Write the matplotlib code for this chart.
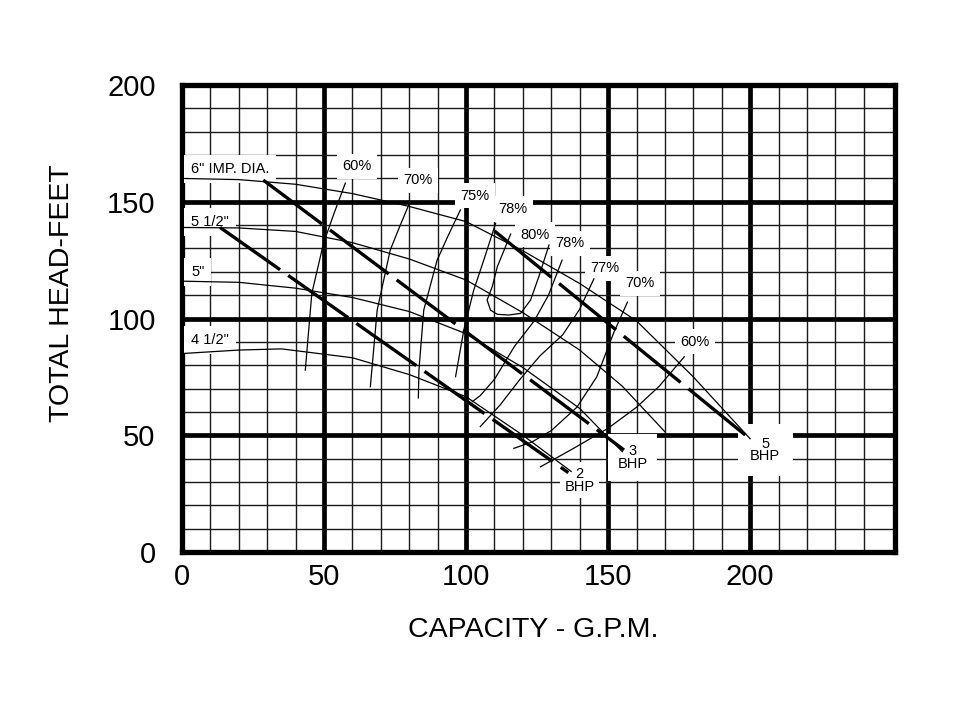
import matplotlib.pyplot as plt
import numpy as np

plt.rcParams["font.family"] = ["Liberation Sans", "DejaVu Sans"]

# Curvas de carga por diametro de impulsor (capacidad gpm, carga ft)
imp6_q = [0, 20, 40, 60, 80, 100, 120, 140, 160, 180, 200]
imp6_h = [160, 159.5, 157.5, 153.5, 148, 141.5, 129, 115, 99, 75, 48.5]
imp55_q = [0, 20, 40, 60, 80, 100, 120, 140, 155, 170]
imp55_h = [139, 138.8, 137.3, 132.5, 125.5, 116.5, 102.5, 86.5, 71, 51.5]
imp5_q = [0, 20, 40, 60, 80, 100, 120, 140, 150, 155]
imp5_h = [116, 115.5, 113, 109, 103, 93.5, 79, 61.5, 49, 43]
imp45_q = [0, 20, 35, 60, 80, 100, 120, 137]
imp45_h = [85, 86.5, 87, 83.2, 76, 66.5, 50, 34.5]

# Lineas de potencia (BHP)
bhp2_q = [13.4, 136]
bhp2_h = [139, 34]
bhp3_q = [28.6, 155.6]
bhp3_h = [159.3, 43.7]
bhp5_q = [110, 199.6]
bhp5_h = [137.5, 48.8]

# Curvas de eficiencia
eff60_l_q = [57.5, 53.5, 49.8, 45.7, 43.4]
eff60_l_h = [158, 145, 132.2, 110.8, 77.9]
eff70_l_q = [79.8, 76.5, 73.3, 68.7, 66.3]
eff70_l_h = [148.6, 139, 129.3, 103.6, 70.8]
eff75_l_q = [98, 93.5, 89.8, 85.1, 83.4, 83.2]
eff75_l_h = [146.5, 135, 125, 103.6, 77.9, 66]
eff78_l_q = [110.4, 106.5, 102.7, 99.2, 96.3]
eff78_l_h = [140.8, 126, 112.2, 95.1, 75.1]
eff80_q = [115.7, 111, 109.2, 107.4, 108.6, 111, 115, 119.2, 122.7, 125.6, 129.2]
eff80_h = [136.2, 122.2, 113.6, 107.9, 103.6, 101.8, 101.5, 102.2, 107.9, 117.9, 131.5]
eff78_r_q = [133.8, 129, 124, 117, 110, 105, 102.2]
eff78_r_h = [125, 110, 99, 88, 74, 67, 64.4]
eff77_r_q = [145, 140, 134, 126, 119, 112, 105]
eff77_r_h = [117, 104, 93, 84, 74, 63, 53.7]
eff70_r_q = [156.8, 152, 146, 139, 130, 123, 116.8]
eff70_r_h = [107, 94, 75, 62, 52, 47, 44.4]
eff60_r_q = [176.8, 168, 160, 150, 138, 126.2]
eff60_r_h = [83.6, 71, 62, 53, 44.5, 36.5]

# Etiquetas
imp_labels = ['6" IMP. DIA.', '5 1/2"', '5"', '4 1/2"']
imp_label_h = [164, 141.5, 120, 90.8]
eff_labels = ["60%", "70%", "75%", "78%", "80%", "78%", "77%", "70%", "60%"]
eff_label_q = [61.6, 83.1, 103.2, 116.5, 124.3, 136.6, 148.9, 161.3, 180.6]
eff_label_h = [165.3, 159.3, 152.5, 146.9, 135.8, 132.2, 121.5, 115.1, 90.1]
bhp_labels = ["2\nBHP", "3\nBHP", "5\nBHP"]
bhp_label_q = [140, 158.6, 205.3]
bhp_label_h = [30.8, 40.5, 43.7]

fig = plt.figure(figsize=(9.6, 7.2), dpi=100)
ax = fig.add_axes([0.1896, 0.2333, 0.7427, 0.6486])
ax.set_xlim(0, 251)
ax.set_ylim(0, 200)

# rejilla
ax.set_xticks([0, 50, 100, 150, 200])
ax.set_yticks([0, 50, 100, 150, 200])
ax.set_xticks(np.arange(10, 250, 10), minor=True)
ax.set_yticks(np.arange(10, 200, 10), minor=True)
ax.set_axisbelow(True)
ax.grid(which="minor", color="#1a1a1a", lw=1.0)
ax.grid(which="major", color="black", lw=3.4)
for sp in ax.spines.values():
    sp.set_linewidth(3.8)
ax.tick_params(which="both", length=0)
ax.tick_params(axis="x", labelsize=21, pad=8)
ax.tick_params(axis="y", labelsize=21, pad=19)

thin = dict(color="black", lw=0.9, zorder=4)
for q, h in [(imp6_q, imp6_h), (imp55_q, imp55_h), (imp5_q, imp5_h), (imp45_q, imp45_h)]:
    ax.plot(q, h, **thin)

for q, h in [(eff60_l_q, eff60_l_h), (eff70_l_q, eff70_l_h), (eff75_l_q, eff75_l_h),
             (eff78_l_q, eff78_l_h), (eff80_q, eff80_h), (eff78_r_q, eff78_r_h),
             (eff77_r_q, eff77_r_h), (eff70_r_q, eff70_r_h), (eff60_r_q, eff60_r_h)]:
    ax.plot(q, h, **thin)

for q, h in [(bhp2_q, bhp2_h), (bhp3_q, bhp3_h), (bhp5_q, bhp5_h)]:
    ax.plot(q, h, color="black", lw=2.4, dashes=(22, 3), solid_capstyle="butt", zorder=5)

box = dict(facecolor="white", edgecolor="none")
for s, h in zip(imp_labels, imp_label_h):
    ax.text(3.2, h, s, fontsize=10.5, ha="left", va="center", zorder=3, bbox=dict(box, pad=5))
for s, q, h in zip(eff_labels, eff_label_q, eff_label_h):
    ax.text(q, h, s, fontsize=10.5, ha="center", va="center", zorder=3, bbox=dict(box, pad=4))
for s, q, h, p in zip(bhp_labels, bhp_label_q, bhp_label_h, [3, 7, 9]):
    ax.text(q, h, s, fontsize=10.5, ha="center", va="center", linespacing=0.9,
            zorder=3, bbox=dict(box, pad=p))

fig.text(0.555, 0.125, "CAPACITY - G.P.M.", fontsize=20.5, ha="center", va="center")
fig.text(0.065, 0.593, "TOTAL HEAD-FEET", fontsize=20.5, ha="center", va="center", rotation=90)

fig.savefig("out.png", dpi=100)
